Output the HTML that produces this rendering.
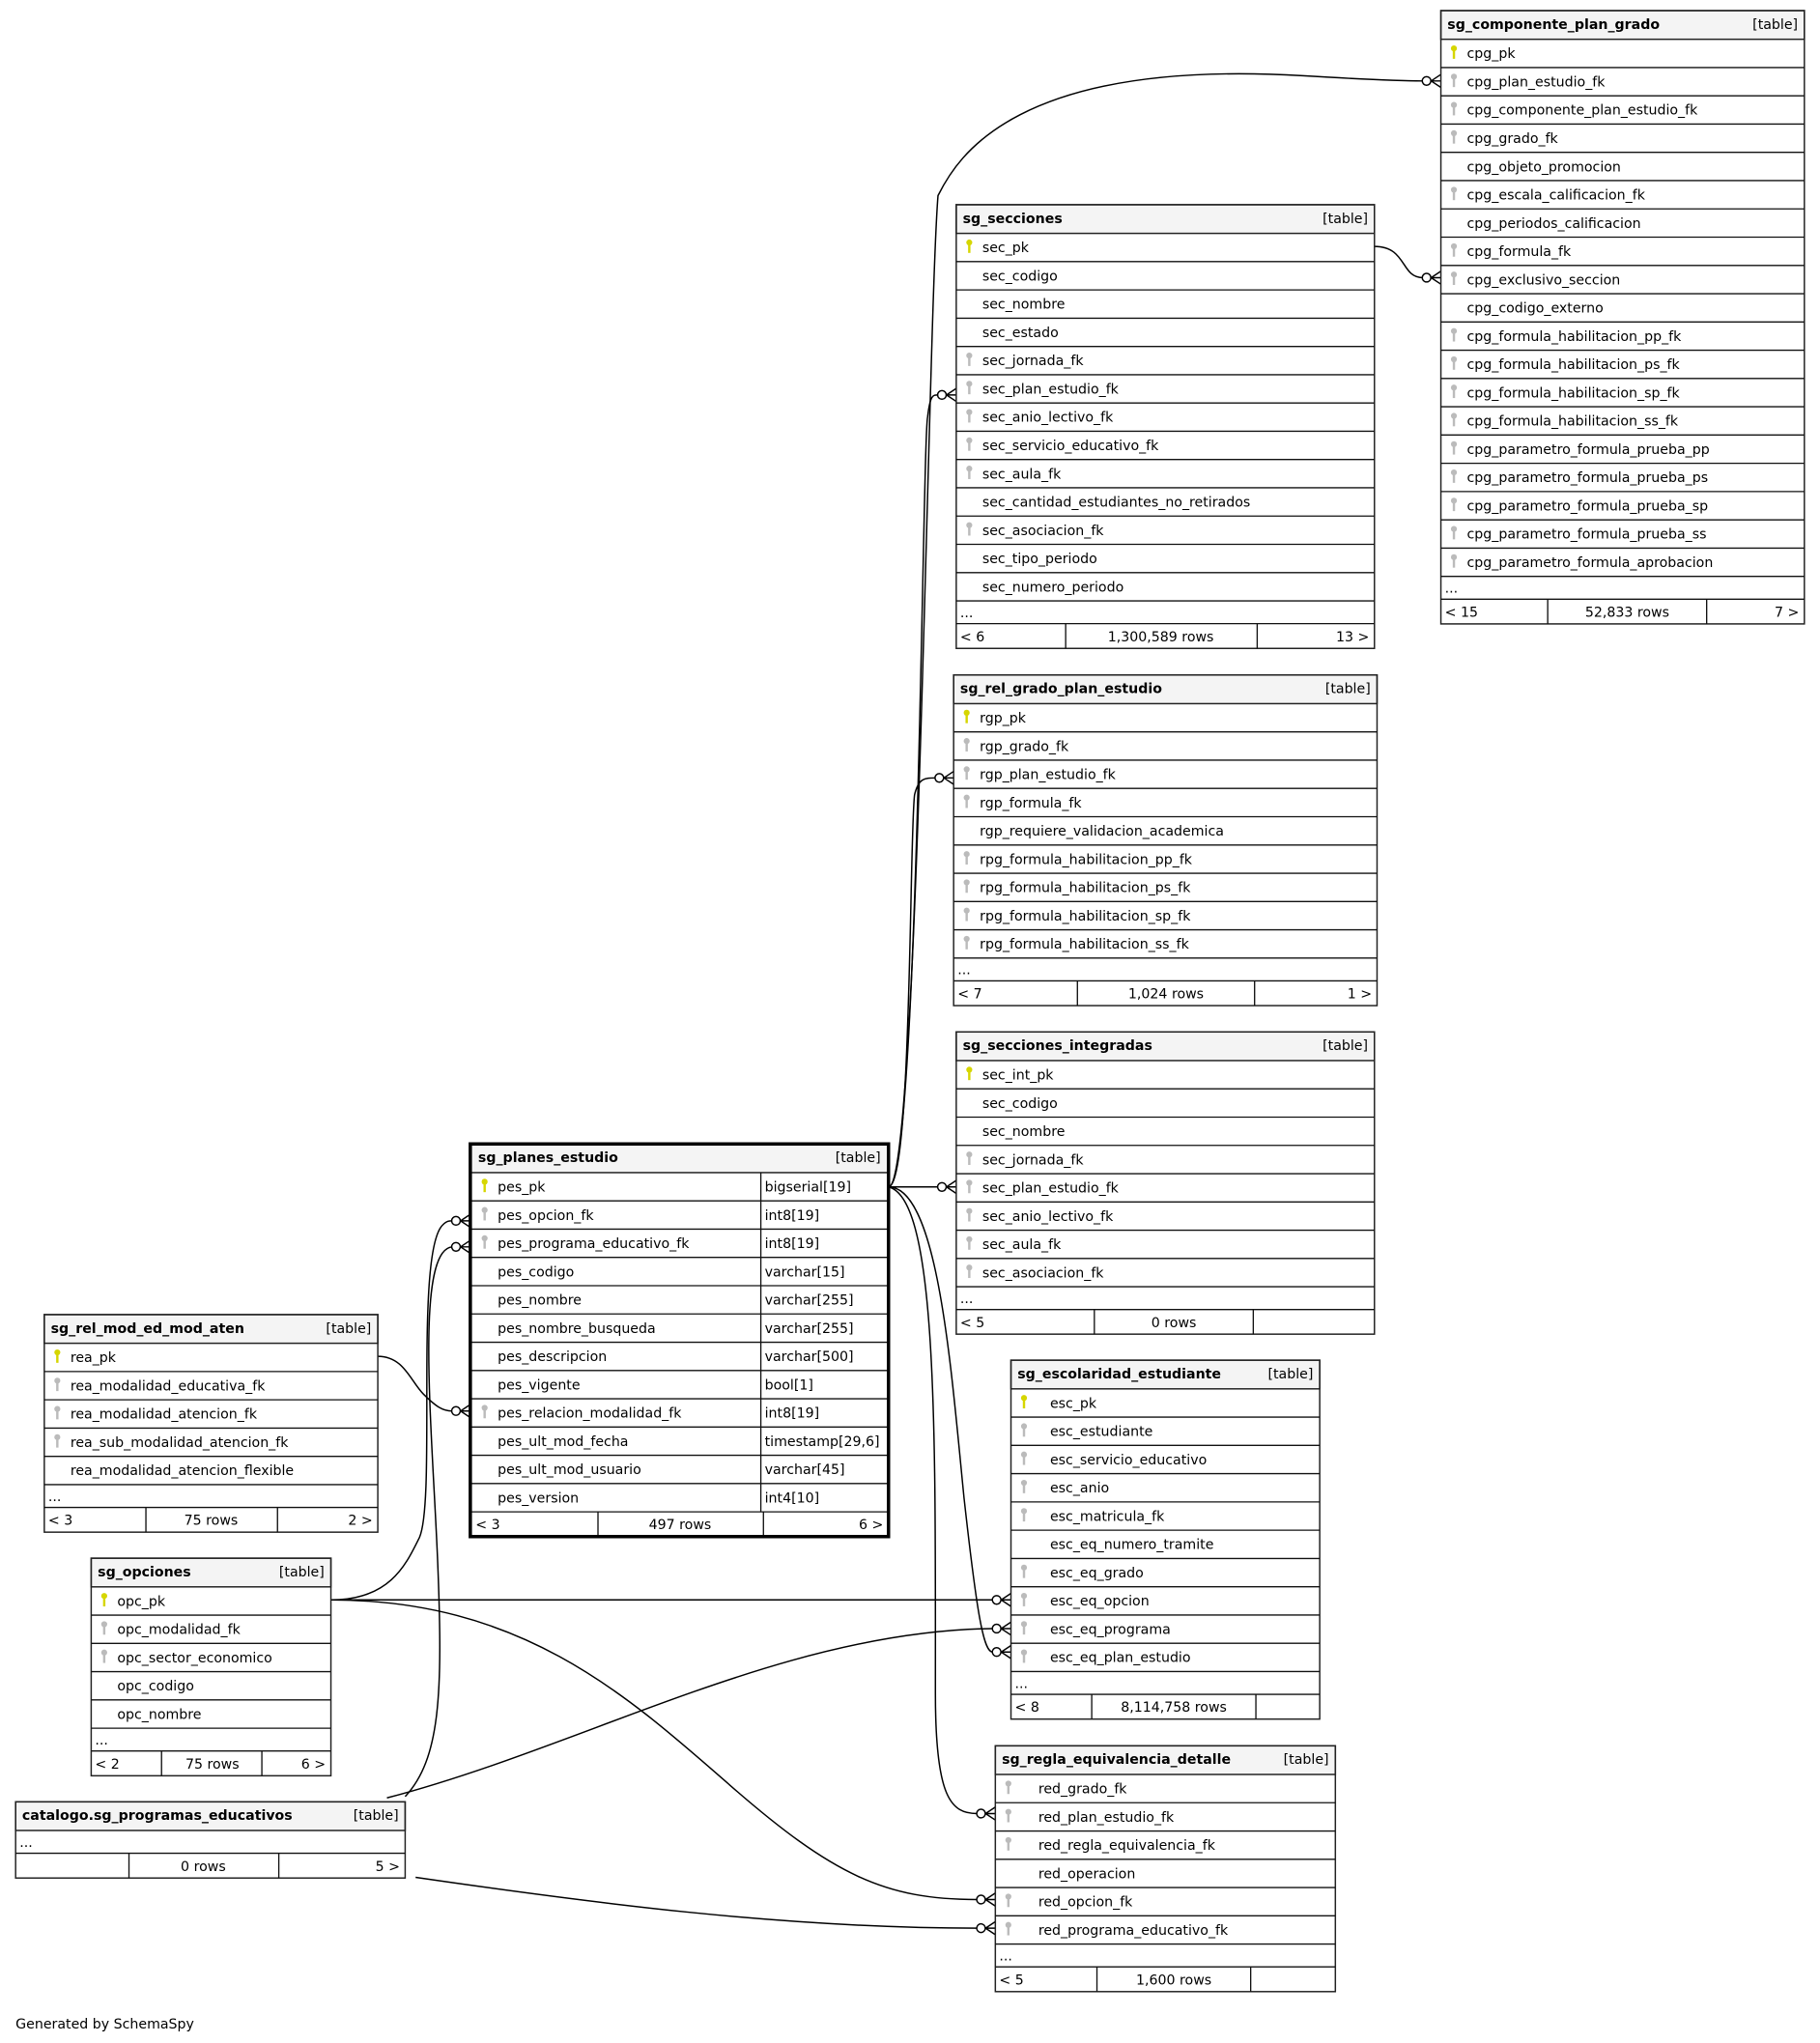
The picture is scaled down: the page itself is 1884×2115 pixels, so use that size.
<!DOCTYPE html>
<html><head><meta charset="utf-8"><style>
html,body{margin:0;padding:0;background:#fff;width:1884px;height:2115px;overflow:hidden}
svg{display:block}
text{font-family:"DejaVu Sans","Liberation Sans",sans-serif;font-size:10.5px;fill:#000}
.b{font-weight:bold}
.r{text-anchor:end}.m{text-anchor:middle}
.hd{fill:#f4f4f4;stroke:#222;stroke-width:1.1}
.bx{fill:none;stroke:#222;stroke-width:1.1}
.ln{stroke:#111;stroke-width:1}
.e{fill:none;stroke:#000;stroke-width:1.1}
</style></head><body>
<svg width="1884" height="2115" viewBox="0 0 1397 1568" xmlns="http://www.w3.org/2000/svg">
<defs>
<g id="kp"><circle cx="0" cy="0" r="2.3" fill="#d6d600"/><rect x="-0.9" y="0" width="1.8" height="8" fill="#d6d600"/></g>
<g id="kf"><circle cx="0" cy="0" r="2.3" fill="#bbb"/><rect x="-0.9" y="0" width="1.8" height="8" fill="#bbb"/></g>
<g id="cf"><circle cx="-11" cy="0" r="3.3" fill="#fff" stroke="#000" stroke-width="1.1"/><path d="M-7.5,0 L0,-5 M-7.5,0 L0,0 M-7.5,0 L0,5" stroke="#000" stroke-width="1.1" fill="none"/></g>
</defs>

<!-- edges -->
<path class="e" d="M682,911 C705,911 712,250 720,150 C735,120 780,45 1000,58 C1050,61 1080,62 1092,62"/>
<use href="#cf" x="1106" y="62"/>
<path class="e" d="M1055,189 C1080,189 1075,213 1092,213"/>
<use href="#cf" x="1106" y="213"/>
<path class="e" d="M682,911 C705,911 708,340 712,320 C714,303 716,303 720,303"/>
<use href="#cf" x="734" y="303"/>
<path class="e" d="M682,911 C700,911 698,640 702,610 C705,597 710,597 718,597"/>
<use href="#cf" x="732" y="597"/>
<path class="e" d="M682,911 L720,911"/>
<use href="#cf" x="734" y="911"/>
<path class="e" d="M682,911 C720,911 730,1050 740,1150 C750,1240 755,1268 762,1268"/>
<use href="#cf" x="776" y="1268"/>
<path class="e" d="M682,911 C720,920 718,1100 718,1300 C718,1380 730,1392 750,1392"/>
<use href="#cf" x="764" y="1392"/>
<path class="e" d="M254,1228 L762,1228"/>
<use href="#cf" x="776" y="1228"/>
<path class="e" d="M254,1228 C400,1228 480,1300 560,1370 C640,1440 680,1458 750,1458"/>
<use href="#cf" x="764" y="1458"/>
<path class="e" d="M254,1228 C300,1228 312,1200 322,1180 C335,1150 318,960 340,940 C343,937 345,937 347,937"/>
<use href="#cf" x="361" y="937"/>
<path class="e" d="M311,1379 C338,1350 340,1300 336,1200 C332,1100 318,960 347,957"/>
<use href="#cf" x="361" y="957"/>
<path class="e" d="M297,1380 C450,1340 600,1252 762,1250"/>
<use href="#cf" x="776" y="1250"/>
<path class="e" d="M319,1441 C450,1460 600,1480 750,1480"/>
<use href="#cf" x="764" y="1480"/>
<path class="e" d="M290,1041 C310,1041 315,1060 325,1070 C335,1080 340,1083 347,1083"/>
<use href="#cf" x="361" y="1083"/>

<!-- T1 sg_componente_plan_grado -->
<g transform="translate(1106,8)">
<rect class="hd" x="0" y="0" width="279" height="22"/>
<text class="b" x="5" y="14">sg_componente_plan_grado</text><text class="r" x="274" y="14">[table]</text>
<rect class="bx" x="0" y="0" width="279" height="470.8"/>
<g class="ln">
<line x1="0" x2="279" y1="43.7" y2="43.7"/><line x1="0" x2="279" y1="65.4" y2="65.4"/><line x1="0" x2="279" y1="87.1" y2="87.1"/><line x1="0" x2="279" y1="108.8" y2="108.8"/><line x1="0" x2="279" y1="130.5" y2="130.5"/><line x1="0" x2="279" y1="152.2" y2="152.2"/><line x1="0" x2="279" y1="173.9" y2="173.9"/><line x1="0" x2="279" y1="195.6" y2="195.6"/><line x1="0" x2="279" y1="217.3" y2="217.3"/><line x1="0" x2="279" y1="239" y2="239"/><line x1="0" x2="279" y1="260.7" y2="260.7"/><line x1="0" x2="279" y1="282.4" y2="282.4"/><line x1="0" x2="279" y1="304.1" y2="304.1"/><line x1="0" x2="279" y1="325.8" y2="325.8"/><line x1="0" x2="279" y1="347.5" y2="347.5"/><line x1="0" x2="279" y1="369.2" y2="369.2"/><line x1="0" x2="279" y1="390.9" y2="390.9"/><line x1="0" x2="279" y1="412.6" y2="412.6"/><line x1="0" x2="279" y1="434.3" y2="434.3"/><line x1="0" x2="279" y1="451.8" y2="451.8"/>
<line x1="82" x2="82" y1="451.8" y2="470.8"/><line x1="204" x2="204" y1="451.8" y2="470.8"/>
</g>
<use href="#kp" x="10" y="29"/><text x="20" y="36.5">cpg_pk</text>
<use href="#kf" x="10" y="50.7"/><text x="20" y="58.2">cpg_plan_estudio_fk</text>
<use href="#kf" x="10" y="72.4"/><text x="20" y="79.9">cpg_componente_plan_estudio_fk</text>
<use href="#kf" x="10" y="94.1"/><text x="20" y="101.6">cpg_grado_fk</text>
<text x="20" y="123.3">cpg_objeto_promocion</text>
<use href="#kf" x="10" y="137.5"/><text x="20" y="145">cpg_escala_calificacion_fk</text>
<text x="20" y="166.7">cpg_periodos_calificacion</text>
<use href="#kf" x="10" y="180.9"/><text x="20" y="188.4">cpg_formula_fk</text>
<use href="#kf" x="10" y="202.6"/><text x="20" y="210.1">cpg_exclusivo_seccion</text>
<text x="20" y="231.8">cpg_codigo_externo</text>
<use href="#kf" x="10" y="246"/><text x="20" y="253.5">cpg_formula_habilitacion_pp_fk</text>
<use href="#kf" x="10" y="267.7"/><text x="20" y="275.2">cpg_formula_habilitacion_ps_fk</text>
<use href="#kf" x="10" y="289.4"/><text x="20" y="296.9">cpg_formula_habilitacion_sp_fk</text>
<use href="#kf" x="10" y="311.1"/><text x="20" y="318.6">cpg_formula_habilitacion_ss_fk</text>
<use href="#kf" x="10" y="332.8"/><text x="20" y="340.3">cpg_parametro_formula_prueba_pp</text>
<use href="#kf" x="10" y="354.5"/><text x="20" y="362">cpg_parametro_formula_prueba_ps</text>
<use href="#kf" x="10" y="376.2"/><text x="20" y="383.7">cpg_parametro_formula_prueba_sp</text>
<use href="#kf" x="10" y="397.9"/><text x="20" y="405.4">cpg_parametro_formula_prueba_ss</text>
<use href="#kf" x="10" y="419.6"/><text x="20" y="427.1">cpg_parametro_formula_aprobacion</text>
<text x="3" y="446.8">...</text>
<text x="3" y="465.3">&lt; 15</text><text class="m" x="143" y="465.3">52,833 rows</text><text class="r" x="275" y="465.3">7 &gt;</text>
</g>

<!-- T2 sg_secciones -->
<g transform="translate(734,157)">
<rect class="hd" x="0" y="0" width="321" height="22"/>
<text class="b" x="5" y="14">sg_secciones</text><text class="r" x="316" y="14">[table]</text>
<rect class="bx" x="0" y="0" width="321" height="340.6"/>
<g class="ln">
<line x1="0" x2="321" y1="43.7" y2="43.7"/><line x1="0" x2="321" y1="65.4" y2="65.4"/><line x1="0" x2="321" y1="87.1" y2="87.1"/><line x1="0" x2="321" y1="108.8" y2="108.8"/><line x1="0" x2="321" y1="130.5" y2="130.5"/><line x1="0" x2="321" y1="152.2" y2="152.2"/><line x1="0" x2="321" y1="173.9" y2="173.9"/><line x1="0" x2="321" y1="195.6" y2="195.6"/><line x1="0" x2="321" y1="217.3" y2="217.3"/><line x1="0" x2="321" y1="239" y2="239"/><line x1="0" x2="321" y1="260.7" y2="260.7"/><line x1="0" x2="321" y1="282.4" y2="282.4"/><line x1="0" x2="321" y1="304.1" y2="304.1"/><line x1="0" x2="321" y1="321.6" y2="321.6"/>
<line x1="84" x2="84" y1="321.6" y2="340.6"/><line x1="231" x2="231" y1="321.6" y2="340.6"/>
</g>
<use href="#kp" x="10" y="29"/><text x="20" y="36.5">sec_pk</text>
<text x="20" y="58.2">sec_codigo</text>
<text x="20" y="79.9">sec_nombre</text>
<text x="20" y="101.6">sec_estado</text>
<use href="#kf" x="10" y="115.8"/><text x="20" y="123.3">sec_jornada_fk</text>
<use href="#kf" x="10" y="137.5"/><text x="20" y="145">sec_plan_estudio_fk</text>
<use href="#kf" x="10" y="159.2"/><text x="20" y="166.7">sec_anio_lectivo_fk</text>
<use href="#kf" x="10" y="180.9"/><text x="20" y="188.4">sec_servicio_educativo_fk</text>
<use href="#kf" x="10" y="202.6"/><text x="20" y="210.1">sec_aula_fk</text>
<text x="20" y="231.8">sec_cantidad_estudiantes_no_retirados</text>
<use href="#kf" x="10" y="246"/><text x="20" y="253.5">sec_asociacion_fk</text>
<text x="20" y="275.2">sec_tipo_periodo</text>
<text x="20" y="296.9">sec_numero_periodo</text>
<text x="3" y="316.6">...</text>
<text x="3" y="335.1">&lt; 6</text><text class="m" x="157" y="335.1">1,300,589 rows</text><text class="r" x="317" y="335.1">13 &gt;</text>
</g>

<!-- T3 sg_rel_grado_plan_estudio -->
<g transform="translate(732,518)">
<rect class="hd" x="0" y="0" width="325" height="22"/>
<text class="b" x="5" y="14">sg_rel_grado_plan_estudio</text><text class="r" x="320" y="14">[table]</text>
<rect class="bx" x="0" y="0" width="325" height="253.8"/>
<g class="ln">
<line x1="0" x2="325" y1="43.7" y2="43.7"/><line x1="0" x2="325" y1="65.4" y2="65.4"/><line x1="0" x2="325" y1="87.1" y2="87.1"/><line x1="0" x2="325" y1="108.8" y2="108.8"/><line x1="0" x2="325" y1="130.5" y2="130.5"/><line x1="0" x2="325" y1="152.2" y2="152.2"/><line x1="0" x2="325" y1="173.9" y2="173.9"/><line x1="0" x2="325" y1="195.6" y2="195.6"/><line x1="0" x2="325" y1="217.3" y2="217.3"/><line x1="0" x2="325" y1="234.8" y2="234.8"/>
<line x1="95" x2="95" y1="234.8" y2="253.8"/><line x1="231" x2="231" y1="234.8" y2="253.8"/>
</g>
<use href="#kp" x="10" y="29"/><text x="20" y="36.5">rgp_pk</text>
<use href="#kf" x="10" y="50.7"/><text x="20" y="58.2">rgp_grado_fk</text>
<use href="#kf" x="10" y="72.4"/><text x="20" y="79.9">rgp_plan_estudio_fk</text>
<use href="#kf" x="10" y="94.1"/><text x="20" y="101.6">rgp_formula_fk</text>
<text x="20" y="123.3">rgp_requiere_validacion_academica</text>
<use href="#kf" x="10" y="137.5"/><text x="20" y="145">rpg_formula_habilitacion_pp_fk</text>
<use href="#kf" x="10" y="159.2"/><text x="20" y="166.7">rpg_formula_habilitacion_ps_fk</text>
<use href="#kf" x="10" y="180.9"/><text x="20" y="188.4">rpg_formula_habilitacion_sp_fk</text>
<use href="#kf" x="10" y="202.6"/><text x="20" y="210.1">rpg_formula_habilitacion_ss_fk</text>
<text x="3" y="229.8">...</text>
<text x="3" y="248.3">&lt; 7</text><text class="m" x="163" y="248.3">1,024 rows</text><text class="r" x="321" y="248.3">1 &gt;</text>
</g>

<!-- T4 sg_secciones_integradas -->
<g transform="translate(734,792)">
<rect class="hd" x="0" y="0" width="321" height="22"/>
<text class="b" x="5" y="14">sg_secciones_integradas</text><text class="r" x="316" y="14">[table]</text>
<rect class="bx" x="0" y="0" width="321" height="232"/>
<g class="ln">
<line x1="0" x2="321" y1="43.7" y2="43.7"/><line x1="0" x2="321" y1="65.4" y2="65.4"/><line x1="0" x2="321" y1="87.1" y2="87.1"/><line x1="0" x2="321" y1="108.8" y2="108.8"/><line x1="0" x2="321" y1="130.5" y2="130.5"/><line x1="0" x2="321" y1="152.2" y2="152.2"/><line x1="0" x2="321" y1="173.9" y2="173.9"/><line x1="0" x2="321" y1="195.6" y2="195.6"/><line x1="0" x2="321" y1="213.1" y2="213.1"/>
<line x1="106" x2="106" y1="213.1" y2="232"/><line x1="228" x2="228" y1="213.1" y2="232"/>
</g>
<use href="#kp" x="10" y="29"/><text x="20" y="36.5">sec_int_pk</text>
<text x="20" y="58.2">sec_codigo</text>
<text x="20" y="79.9">sec_nombre</text>
<use href="#kf" x="10" y="94.1"/><text x="20" y="101.6">sec_jornada_fk</text>
<use href="#kf" x="10" y="115.8"/><text x="20" y="123.3">sec_plan_estudio_fk</text>
<use href="#kf" x="10" y="137.5"/><text x="20" y="145">sec_anio_lectivo_fk</text>
<use href="#kf" x="10" y="159.2"/><text x="20" y="166.7">sec_aula_fk</text>
<use href="#kf" x="10" y="180.9"/><text x="20" y="188.4">sec_asociacion_fk</text>
<text x="3" y="208.1">...</text>
<text x="3" y="226.6">&lt; 5</text><text class="m" x="167" y="226.6">0 rows</text>
</g>

<!-- T5 sg_escolaridad_estudiante -->
<g transform="translate(776,1044)">
<rect class="hd" x="0" y="0" width="237" height="22"/>
<text class="b" x="5" y="14">sg_escolaridad_estudiante</text><text class="r" x="232" y="14">[table]</text>
<rect class="bx" x="0" y="0" width="237" height="275.5"/>
<g class="ln">
<line x1="0" x2="237" y1="43.7" y2="43.7"/><line x1="0" x2="237" y1="65.4" y2="65.4"/><line x1="0" x2="237" y1="87.1" y2="87.1"/><line x1="0" x2="237" y1="108.8" y2="108.8"/><line x1="0" x2="237" y1="130.5" y2="130.5"/><line x1="0" x2="237" y1="152.2" y2="152.2"/><line x1="0" x2="237" y1="173.9" y2="173.9"/><line x1="0" x2="237" y1="195.6" y2="195.6"/><line x1="0" x2="237" y1="217.3" y2="217.3"/><line x1="0" x2="237" y1="239" y2="239"/><line x1="0" x2="237" y1="256.5" y2="256.5"/>
<line x1="62" x2="62" y1="256.5" y2="275.5"/><line x1="188" x2="188" y1="256.5" y2="275.5"/>
</g>
<use href="#kp" x="10" y="29"/><text x="30" y="36.5">esc_pk</text>
<use href="#kf" x="10" y="50.7"/><text x="30" y="58.2">esc_estudiante</text>
<use href="#kf" x="10" y="72.4"/><text x="30" y="79.9">esc_servicio_educativo</text>
<use href="#kf" x="10" y="94.1"/><text x="30" y="101.6">esc_anio</text>
<use href="#kf" x="10" y="115.8"/><text x="30" y="123.3">esc_matricula_fk</text>
<text x="30" y="145">esc_eq_numero_tramite</text>
<use href="#kf" x="10" y="159.2"/><text x="30" y="166.7">esc_eq_grado</text>
<use href="#kf" x="10" y="180.9"/><text x="30" y="188.4">esc_eq_opcion</text>
<use href="#kf" x="10" y="202.6"/><text x="30" y="210.1">esc_eq_programa</text>
<use href="#kf" x="10" y="224.3"/><text x="30" y="231.8">esc_eq_plan_estudio</text>
<text x="3" y="251.5">...</text>
<text x="3" y="270">&lt; 8</text><text class="m" x="125" y="270">8,114,758 rows</text>
</g>

<!-- T6 sg_regla_equivalencia_detalle -->
<g transform="translate(764,1340)">
<rect class="hd" x="0" y="0" width="261" height="22"/>
<text class="b" x="5" y="14">sg_regla_equivalencia_detalle</text><text class="r" x="256" y="14">[table]</text>
<rect class="bx" x="0" y="0" width="261" height="188.7"/>
<g class="ln">
<line x1="0" x2="261" y1="43.7" y2="43.7"/><line x1="0" x2="261" y1="65.4" y2="65.4"/><line x1="0" x2="261" y1="87.1" y2="87.1"/><line x1="0" x2="261" y1="108.8" y2="108.8"/><line x1="0" x2="261" y1="130.5" y2="130.5"/><line x1="0" x2="261" y1="152.2" y2="152.2"/><line x1="0" x2="261" y1="169.7" y2="169.7"/>
<line x1="78" x2="78" y1="169.7" y2="188.7"/><line x1="196" x2="196" y1="169.7" y2="188.7"/>
</g>
<use href="#kf" x="10" y="29"/><text x="33" y="36.5">red_grado_fk</text>
<use href="#kf" x="10" y="50.7"/><text x="33" y="58.2">red_plan_estudio_fk</text>
<use href="#kf" x="10" y="72.4"/><text x="33" y="79.9">red_regla_equivalencia_fk</text>
<text x="33" y="101.6">red_operacion</text>
<use href="#kf" x="10" y="115.8"/><text x="33" y="123.3">red_opcion_fk</text>
<use href="#kf" x="10" y="137.5"/><text x="33" y="145">red_programa_educativo_fk</text>
<text x="3" y="164.7">...</text>
<text x="3" y="183.2">&lt; 5</text><text class="m" x="137" y="183.2">1,600 rows</text>
</g>

<!-- T7 sg_planes_estudio -->
<g transform="translate(361,878)">
<rect class="hd" x="0" y="0" width="321" height="22"/>
<text class="b" x="6" y="14">sg_planes_estudio</text><text class="r" x="315" y="14">[table]</text>
<g class="ln">
<line x1="0" x2="321" y1="43.7" y2="43.7"/><line x1="0" x2="321" y1="65.4" y2="65.4"/><line x1="0" x2="321" y1="87.1" y2="87.1"/><line x1="0" x2="321" y1="108.8" y2="108.8"/><line x1="0" x2="321" y1="130.5" y2="130.5"/><line x1="0" x2="321" y1="152.2" y2="152.2"/><line x1="0" x2="321" y1="173.9" y2="173.9"/><line x1="0" x2="321" y1="195.6" y2="195.6"/><line x1="0" x2="321" y1="217.3" y2="217.3"/><line x1="0" x2="321" y1="239" y2="239"/><line x1="0" x2="321" y1="260.7" y2="260.7"/><line x1="0" x2="321" y1="282.4" y2="282.4"/>
<line x1="223" x2="223" y1="22" y2="282.4"/>
<line x1="98" x2="98" y1="282.4" y2="301.4"/><line x1="225" x2="225" y1="282.4" y2="301.4"/>
</g>
<rect x="0" y="0" width="321" height="301.4" fill="none" stroke="#000" stroke-width="2.6"/>
<use href="#kp" x="11" y="29"/><text x="21" y="36.5">pes_pk</text><text x="226" y="36.5">bigserial[19]</text>
<use href="#kf" x="11" y="50.7"/><text x="21" y="58.2">pes_opcion_fk</text><text x="226" y="58.2">int8[19]</text>
<use href="#kf" x="11" y="72.4"/><text x="21" y="79.9">pes_programa_educativo_fk</text><text x="226" y="79.9">int8[19]</text>
<text x="21" y="101.6">pes_codigo</text><text x="226" y="101.6">varchar[15]</text>
<text x="21" y="123.3">pes_nombre</text><text x="226" y="123.3">varchar[255]</text>
<text x="21" y="145">pes_nombre_busqueda</text><text x="226" y="145">varchar[255]</text>
<text x="21" y="166.7">pes_descripcion</text><text x="226" y="166.7">varchar[500]</text>
<text x="21" y="188.4">pes_vigente</text><text x="226" y="188.4">bool[1]</text>
<use href="#kf" x="11" y="202.6"/><text x="21" y="210.1">pes_relacion_modalidad_fk</text><text x="226" y="210.1">int8[19]</text>
<text x="21" y="231.8">pes_ult_mod_fecha</text><text x="226" y="231.8">timestamp[29,6]</text>
<text x="21" y="253.5">pes_ult_mod_usuario</text><text x="226" y="253.5">varchar[45]</text>
<text x="21" y="275.2">pes_version</text><text x="226" y="275.2">int4[10]</text>
<text x="4" y="295.5">&lt; 3</text><text class="m" x="161" y="295.5">497 rows</text><text class="r" x="317" y="295.5">6 &gt;</text>
</g>

<!-- T8 sg_rel_mod_ed_mod_aten -->
<g transform="translate(34,1009)">
<rect class="hd" x="0" y="0" width="256" height="22"/>
<text class="b" x="5" y="14">sg_rel_mod_ed_mod_aten</text><text class="r" x="251" y="14">[table]</text>
<rect class="bx" x="0" y="0" width="256" height="167"/>
<g class="ln">
<line x1="0" x2="256" y1="43.7" y2="43.7"/><line x1="0" x2="256" y1="65.4" y2="65.4"/><line x1="0" x2="256" y1="87.1" y2="87.1"/><line x1="0" x2="256" y1="108.8" y2="108.8"/><line x1="0" x2="256" y1="130.5" y2="130.5"/><line x1="0" x2="256" y1="148" y2="148"/>
<line x1="78" x2="78" y1="148" y2="167"/><line x1="179" x2="179" y1="148" y2="167"/>
</g>
<use href="#kp" x="10" y="29"/><text x="20" y="36.5">rea_pk</text>
<use href="#kf" x="10" y="50.7"/><text x="20" y="58.2">rea_modalidad_educativa_fk</text>
<use href="#kf" x="10" y="72.4"/><text x="20" y="79.9">rea_modalidad_atencion_fk</text>
<use href="#kf" x="10" y="94.1"/><text x="20" y="101.6">rea_sub_modalidad_atencion_fk</text>
<text x="20" y="123.3">rea_modalidad_atencion_flexible</text>
<text x="3" y="143">...</text>
<text x="3" y="161.5">&lt; 3</text><text class="m" x="128" y="161.5">75 rows</text><text class="r" x="252" y="161.5">2 &gt;</text>
</g>

<!-- T9 sg_opciones -->
<g transform="translate(70,1196)">
<rect class="hd" x="0" y="0" width="184" height="22"/>
<text class="b" x="5" y="14">sg_opciones</text><text class="r" x="179" y="14">[table]</text>
<rect class="bx" x="0" y="0" width="184" height="167"/>
<g class="ln">
<line x1="0" x2="184" y1="43.7" y2="43.7"/><line x1="0" x2="184" y1="65.4" y2="65.4"/><line x1="0" x2="184" y1="87.1" y2="87.1"/><line x1="0" x2="184" y1="108.8" y2="108.8"/><line x1="0" x2="184" y1="130.5" y2="130.5"/><line x1="0" x2="184" y1="148" y2="148"/>
<line x1="54" x2="54" y1="148" y2="167"/><line x1="131" x2="131" y1="148" y2="167"/>
</g>
<use href="#kp" x="10" y="29"/><text x="20" y="36.5">opc_pk</text>
<use href="#kf" x="10" y="50.7"/><text x="20" y="58.2">opc_modalidad_fk</text>
<use href="#kf" x="10" y="72.4"/><text x="20" y="79.9">opc_sector_economico</text>
<text x="20" y="101.6">opc_codigo</text>
<text x="20" y="123.3">opc_nombre</text>
<text x="3" y="143">...</text>
<text x="3" y="161.5">&lt; 2</text><text class="m" x="93" y="161.5">75 rows</text><text class="r" x="180" y="161.5">6 &gt;</text>
</g>

<!-- T10 catalogo.sg_programas_educativos -->
<g transform="translate(12,1383)">
<rect class="hd" x="0" y="0" width="299" height="22"/>
<text class="b" x="5" y="14">catalogo.sg_programas_educativos</text><text class="r" x="294" y="14">[table]</text>
<rect class="bx" x="0" y="0" width="299" height="58.5"/>
<g class="ln">
<line x1="0" x2="299" y1="39.5" y2="39.5"/>
<line x1="87" x2="87" y1="39.5" y2="58.5"/><line x1="202" x2="202" y1="39.5" y2="58.5"/>
</g>
<text x="3" y="34.5">...</text>
<text class="m" x="144" y="53">0 rows</text><text class="r" x="295" y="53">5 &gt;</text>
</g>

<text x="12" y="1557">Generated by SchemaSpy</text>
</svg>
</body></html>
